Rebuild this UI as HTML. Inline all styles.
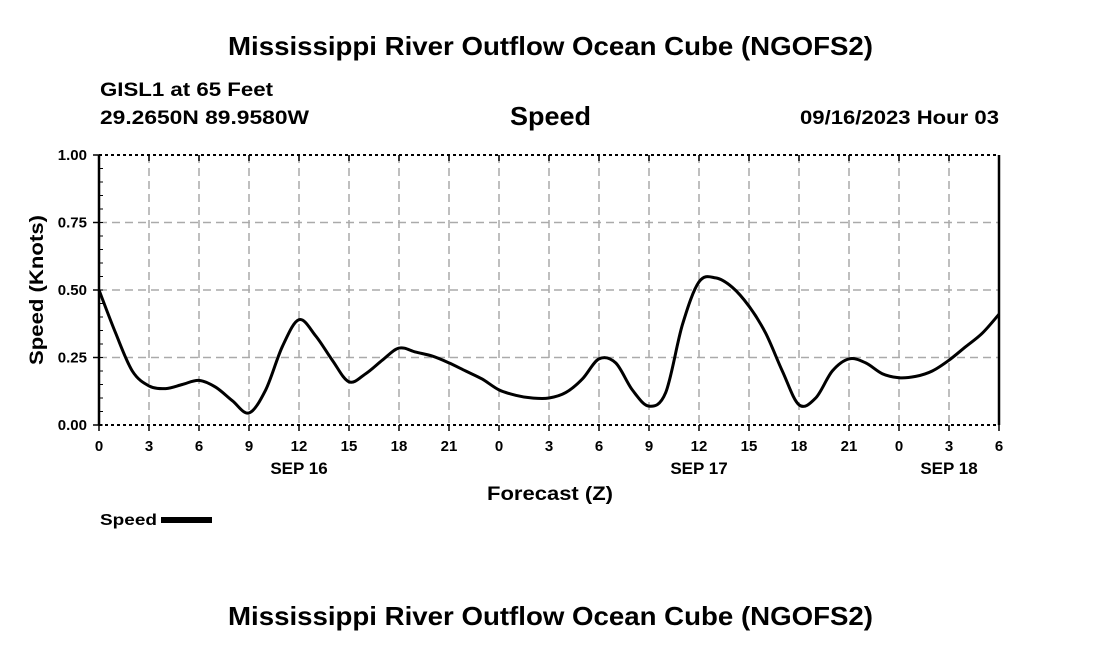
<!DOCTYPE html>
<html><head><meta charset="utf-8"><style>
body{margin:0;background:#fff;}
svg text{font-family:"Liberation Sans",Arial,sans-serif;font-weight:bold;fill:#000;}
</style></head><body>
<svg width="1100" height="650" xmlns="http://www.w3.org/2000/svg">
<text x="228" y="55" font-size="26" textLength="645" lengthAdjust="spacingAndGlyphs">Mississippi River Outflow Ocean Cube (NGOFS2)</text>
<text x="100" y="96" font-size="19" textLength="173" lengthAdjust="spacingAndGlyphs">GISL1 at 65 Feet</text>
<text x="100" y="124" font-size="19" textLength="209" lengthAdjust="spacingAndGlyphs">29.2650N  89.9580W</text>
<text x="510" y="125" font-size="26" textLength="81" lengthAdjust="spacingAndGlyphs">Speed</text>
<text x="800" y="124" font-size="19" textLength="199" lengthAdjust="spacingAndGlyphs">09/16/2023 Hour 03</text>
<g id="grid"></g>
<g id="axes"></g>
<path id="line" fill="none" stroke="#000" stroke-width="3" stroke-linejoin="round"/>
<text x="43" y="290" font-size="19" text-anchor="middle" textLength="150" lengthAdjust="spacingAndGlyphs" transform="rotate(-90 43 290)">Speed (Knots)</text>
<text x="487" y="500" font-size="19" textLength="126" lengthAdjust="spacingAndGlyphs">Forecast (Z)</text>
<text x="100" y="525" font-size="16" textLength="57" lengthAdjust="spacingAndGlyphs">Speed</text>
<rect x="161" y="517" width="51" height="6" fill="#000"/>
<text x="228" y="625" font-size="26" textLength="645" lengthAdjust="spacingAndGlyphs">Mississippi River Outflow Ocean Cube (NGOFS2)</text>
</svg>
<script>
const hourLabels=["0","3","6","9","12","15","18","21","0","3","6","9","12","15","18","21","0","3","6"];
const dateLabels=[["SEP 16",12],["SEP 17",36],["SEP 18",51]];
const yTicks=[0,0.25,0.5,0.75,1.0];
const minorTicks=[0,0.05,0.1,0.15,0.2,0.25,0.3,0.35,0.4,0.45,0.5,0.55,0.6,0.65,0.7,0.75,0.8,0.85,0.9,0.95];
const speeds=[0.50,0.34,0.20,0.145,0.135,0.15,0.165,0.14,0.09,0.045,0.13,0.29,0.39,0.33,0.24,0.16,0.19,0.24,0.285,0.27,0.255,0.23,0.20,0.17,0.13,0.11,0.10,0.10,0.12,0.17,0.245,0.23,0.13,0.07,0.12,0.37,0.53,0.545,0.51,0.44,0.34,0.20,0.075,0.10,0.20,0.245,0.23,0.19,0.175,0.18,0.20,0.24,0.29,0.34,0.41];
const X0=99,X1=999,Y0=425,Y1=155,H=54;
const sx=h=>X0+(X1-X0)*h/H, sy=v=>Y0-(Y0-Y1)*v;
const NS="http://www.w3.org/2000/svg";
function mk(tag,attrs,parent,txt){const e=document.createElementNS(NS,tag);for(const k in attrs)e.setAttribute(k,attrs[k]);if(txt!==undefined)e.textContent=txt;parent.appendChild(e);return e;}
const grid=document.getElementById('grid'),axes=document.getElementById('axes');
hourLabels.forEach((l,i)=>{const x=sx(i*3);
 if(i>0&&i<hourLabels.length-1){const g=mk('line',{x1:x,x2:x,y1:Y1,y2:Y0,stroke:'#aaa','stroke-width':1.5,'stroke-dasharray':'8,5'},grid);
 
 }
 const t=mk('text',{x:x,y:451,'text-anchor':'middle','font-size':15},axes,l);
 
 
 mk('line',{x1:x,x2:x,y1:Y0,y2:Y0+6,stroke:'#000','stroke-width':1.5},axes);
 mk('line',{x1:x,x2:x,y1:Y1,y2:Y1+6,stroke:'#000','stroke-width':1.5},axes);
});
dateLabels.forEach(d=>{const t=mk('text',{x:sx(d[1]),y:474,'text-anchor':'middle','font-size':17},axes,d[0]);
 
 });
yTicks.forEach(v=>{const y=sy(v);
 if(v>0&&v<1){const g=mk('line',{x1:X0,x2:X1,y1:y,y2:y,stroke:'#aaa','stroke-width':1.5,'stroke-dasharray':'8,5'},grid);
 
 }
 const t=mk('text',{x:87,y:y+5,'text-anchor':'end','font-size':15},axes,v.toFixed(2));
 
 
 mk('line',{x1:X0-6,x2:X0,y1:y,y2:y,stroke:'#000','stroke-width':1.5},axes);
});
minorTicks.forEach(v=>{const y=sy(v);mk('line',{x1:X0,x2:X0+4,y1:y,y2:y,stroke:'#000','stroke-width':1},axes);});
mk('line',{x1:X0,x2:X1,y1:Y1,y2:Y1,stroke:'#000','stroke-width':2,'stroke-dasharray':'3,3'},axes);
mk('line',{x1:X0,x2:X1,y1:Y0,y2:Y0,stroke:'#000','stroke-width':2,'stroke-dasharray':'3,3'},axes);
mk('line',{x1:X0,x2:X0,y1:Y1,y2:Y0,stroke:'#000','stroke-width':2.5},axes);
mk('line',{x1:X1,x2:X1,y1:Y1,y2:Y0,stroke:'#000','stroke-width':2.5},axes);
const P=speeds.map((v,i)=>[sx(i),sy(v)]);
let d='M'+P[0][0].toFixed(1)+','+P[0][1].toFixed(1);
for(let i=0;i<P.length-1;i++){const p0=P[Math.max(0,i-1)],p1=P[i],p2=P[i+1],p3=P[Math.min(P.length-1,i+2)];
 const c1=[p1[0]+(p2[0]-p0[0])/6,p1[1]+(p2[1]-p0[1])/6],c2=[p2[0]-(p3[0]-p1[0])/6,p2[1]-(p3[1]-p1[1])/6];
 d+='C'+c1.map(n=>n.toFixed(1)).join(',')+' '+c2.map(n=>n.toFixed(1)).join(',')+' '+p2.map(n=>n.toFixed(1)).join(',');}
document.getElementById('line').setAttribute('d',d);
</script>
</body></html>
